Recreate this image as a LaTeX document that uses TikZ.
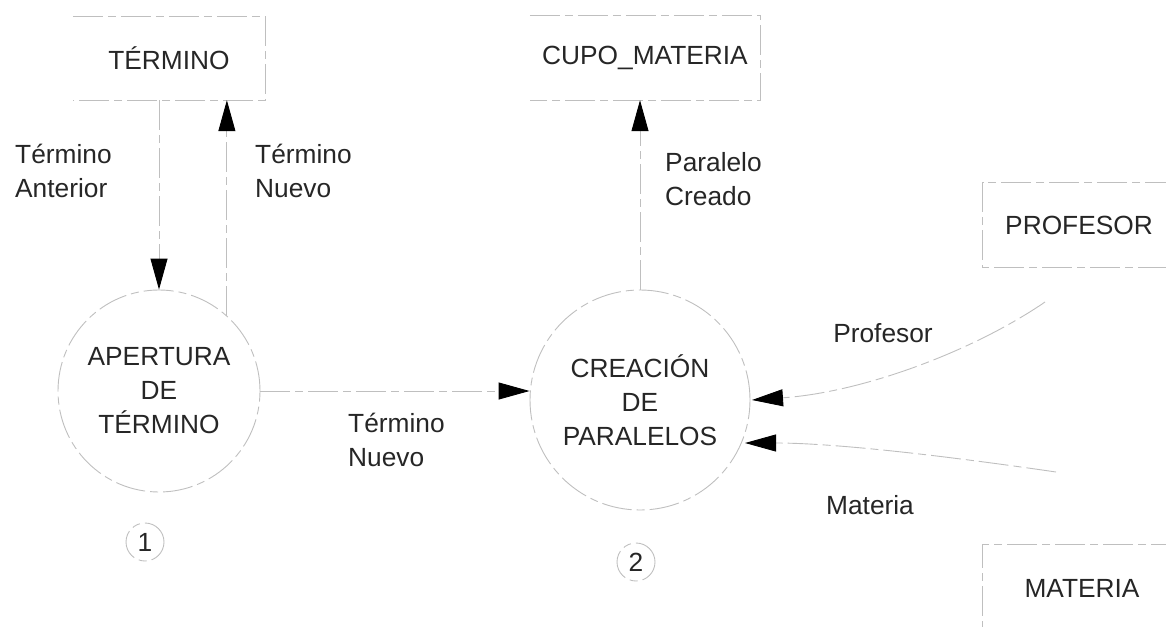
\documentclass[tikz,border=0pt]{standalone}
\usepackage{fontspec}
\setmainfont{Liberation Sans}
\usetikzlibrary{arrows.meta}
\begin{document}
\begin{tikzpicture}[x=1pt,y=-1pt,
  txt/.style={font=\fontsize{26.3}{34}\selectfont, inner sep=0pt, text=black!85},
  faint/.style={draw=gray!50, line width=0.9pt, dash pattern=on 30pt off 5pt on 8pt off 5pt},
  storebox/.style={txt},
  proc/.style={circle, faint, txt, align=center},
  num/.style={circle, faint, txt, minimum size=38pt},
  flow/.style={faint, -{Triangle[length=31pt,width=17pt,black]}},
  lbl/.style={txt, align=left, anchor=north west}]
\useasboundingbox (0,0) rectangle (1166,626);

% data stores
\node[storebox, minimum width=192pt, minimum height=83pt] (termino) at (169,58.5) {TÉRMINO};
\node[storebox, minimum width=230pt, minimum height=84pt] (cupo) at (645,58) {CUPO\_MATERIA};
\node[storebox, minimum width=192pt, minimum height=84pt] (profesor) at (1079,225) {PROFESOR};
\node[storebox, minimum width=198pt, minimum height=86pt] (materia) at (1082,588) {MATERIA};

\draw[faint] (termino.north west) -- (termino.north east) -- (termino.south east) -- (termino.south west);
\draw[faint] (cupo.north west) -- (cupo.north east) -- (cupo.south east) -- (cupo.south west);
\draw[faint] (profesor.north east) -- (profesor.north west) -- (profesor.south west) -- (profesor.south east);
\draw[faint] (materia.north east) -- (materia.north west) -- (materia.south west);

% processes
\node[proc, minimum size=202pt] (p1) at (159,391) {APERTURA\\DE\\TÉRMINO};
\node[proc, minimum size=220pt] (p2) at (640,400) {CREACIÓN\\DE\\PARALELOS};
\node[num] (n1) at (145,542) {1};
\node[num] (n2) at (636,562) {2};

% flows
\draw[flow] (termino.south -| p1.north) -- (p1.north);
\draw[flow] (p1.48) -- (p1.48 |- termino.south);
\draw[flow] (p1.east) -- (p1.east -| p2.west);
\draw[flow] (p2.north) -- (p2.north |- cupo.south);

\coordinate (sprof) at (1045,302);
\coordinate (smat) at (1056,472);
\draw[flow] (sprof) .. controls (975,350) and (865,392) .. (752,400);
\draw[flow] (smat) .. controls (960,458) and (840,443) .. (745,443);

% labels
\node[lbl] (l1) at (15,144) {Término\\Anterior};
\node[lbl] (l2) at (255,144) {Término\\Nuevo};
\node[lbl] (l3) at (348,413) {Término\\Nuevo};
\node[lbl] (l4) at (665,152) {Paralelo\\Creado};
\node[txt] (l5) at (883,333) {Profesor};
\node[txt] (l6) at (870,505) {Materia};
\end{tikzpicture}
\end{document}
